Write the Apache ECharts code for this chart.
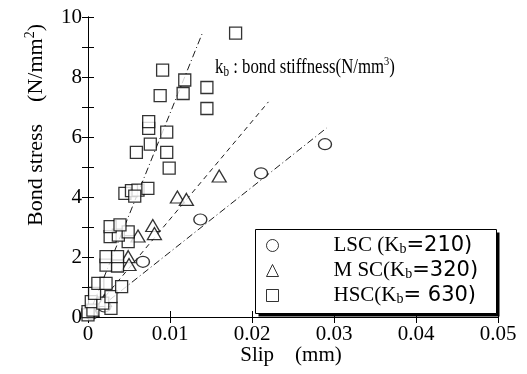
<!DOCTYPE html>
<html>
<head>
<meta charset="utf-8">
<script src="https://cdn.jsdelivr.net/npm/echarts@6/dist/echarts.min.js"></script>
<style>
  html, body { margin: 0; padding: 0; background: #fff; }
  #chart { width: 527px; height: 374px; }
</style>
</head>
<body>
<div id="chart"></div>
<script>
/* 데이터: slip (mm), bond stress (N/mm²) */
const lscPoints = [
  [0.0004, 0.10], [0.0020, 0.35], [0.0067, 1.84], [0.0137, 3.25],
  [0.0211, 4.79], [0.0289, 5.76]
];
const mscPoints = [
  [0.0005, 0.20], [0.0020, 0.55], [0.0049, 2.01], [0.0050, 1.75],
  [0.0061, 2.70], [0.0079, 3.05], [0.0081, 2.78], [0.0109, 4.00],
  [0.0120, 3.92], [0.0160, 4.70]
];
const hscPoints = [
  [0.0000, 0.07], [0.0000, 0.18], [0.0006, 0.23], [0.0028, 0.29],
  [0.0004, 0.51], [0.0018, 0.46], [0.0028, 0.68], [0.0008, 0.79],
  [0.0041, 1.01], [0.0012, 1.12], [0.0022, 1.12], [0.0022, 1.73],
  [0.0036, 1.70], [0.0022, 2.01], [0.0036, 2.01], [0.0049, 2.51],
  [0.0027, 2.68], [0.0037, 2.73], [0.0049, 2.84], [0.0027, 3.01],
  [0.0039, 3.07], [0.0045, 4.12], [0.0053, 4.21], [0.0061, 4.23],
  [0.0057, 4.03], [0.0073, 4.29], [0.0099, 4.96], [0.0059, 5.49],
  [0.0096, 5.49], [0.0076, 5.76], [0.0096, 6.16], [0.0074, 6.29],
  [0.0074, 6.51], [0.0145, 6.95], [0.0088, 7.38], [0.0116, 7.45],
  [0.0145, 7.65], [0.0118, 7.90], [0.0091, 8.23], [0.0180, 9.46]
];

/* bond stiffness 직선: 원점에서 끝점까지 */
const lineEndSlip = [0.0291, 0.0220, 0.0140];
const lineEndStress = [6.30, 7.17, 9.50];
const seriesNames = ['LSC', 'MSC', 'HSC'];
const stiffnessLabels = ['210', '320', '630'];

const SERIF = "'Liberation Serif', 'DejaVu Serif', serif";
const WIDE_SANS = "'DejaVu Sans', sans-serif";

const legendLabels = {
  LSC: `{t|LSC (K}{s|b}{n|=${stiffnessLabels[0]})}`,
  MSC: `{t|M SC(K}{s|b}{n|=${stiffnessLabels[1]})}`,
  HSC: `{t|HSC(K}{s|b}{n|= ${stiffnessLabels[2]})}`
};

const markerStyle = { color: '#fff', borderColor: '#000', borderWidth: 1.3 };

function axisCommon() {
  return {
    axisLine: { show: true, lineStyle: { color: '#000', width: 1 } },
    axisTick: { show: true, inside: true, length: 6, lineStyle: { color: '#000' } },
    splitLine: { show: false }
  };
}

const chart = echarts.init(document.getElementById('chart'), null, { renderer: 'canvas' });

const option = {
  animation: false,
  backgroundColor: '#fff',
  grid: { left: 88, right: 29, top: 17, bottom: 57 },
  xAxis: [
    Object.assign(axisCommon(), {
      type: 'value', min: 0, max: 0.05, interval: 0.01,
      axisLabel: {
        color: '#000', fontFamily: SERIF, fontSize: 21, margin: 7,
        formatter: v => (v === 0 ? '0' : v.toFixed(2))
      }
    }),
    Object.assign(axisCommon(), {
      type: 'value', position: 'top', min: 0, max: 0.05, interval: 0.01,
      axisLabel: { show: false }
    })
  ],
  yAxis: [
    Object.assign(axisCommon(), {
      type: 'value', min: 0, max: 10, interval: 1,
      axisLabel: {
        color: '#000', fontFamily: SERIF, fontSize: 21, margin: 6,
        formatter: v => (v % 2 === 0 ? String(v) : '')
      }
    }),
    Object.assign(axisCommon(), {
      type: 'value', position: 'right', min: 0, max: 10, interval: 1,
      axisLabel: { show: false }
    })
  ],
  legend: {
    data: seriesNames,
    orient: 'vertical',
    left: 266, top: 235,
    z: 20,
    padding: 0,
    itemGap: 4,
    itemWidth: 12, itemHeight: 12,
    itemStyle: { borderWidth: 1 },
    formatter: name => legendLabels[name],
    textStyle: {
      padding: [0, 0, 0, 50],
      rich: {
        t: { fontFamily: SERIF, fontSize: 21, color: '#000', lineHeight: 22 },
        s: { fontFamily: SERIF, fontSize: 14, color: '#000', padding: [7, 0, 0, 0], lineHeight: 22 },
        n: { fontFamily: WIDE_SANS, fontSize: 21, color: '#000', lineHeight: 22 }
      }
    }
  },
  graphic: [
    /* 범례 상자: 그림자 + 흰 상자 */
    {
      type: 'rect', silent: true, z: 10,
      shape: { x: 258.5, y: 232.5, width: 241, height: 84 },
      style: { fill: '#000' }
    },
    {
      type: 'rect', silent: true, z: 11,
      shape: { x: 255.5, y: 229.5, width: 241, height: 84 },
      style: { fill: '#fff', stroke: '#000', lineWidth: 1 }
    },
    /* kb 주석 */
    {
      type: 'text', x: 215, y: 67, scaleX: 0.8, silent: true,
      style: {
        text: '{t|k}{s|b}{t| : bond stiffness(N/mm}{p|3}{t|)}',
        verticalAlign: 'middle',
        rich: {
          t: { fontFamily: SERIF, fontSize: 21, fill: '#000', lineHeight: 24 },
          s: { fontFamily: SERIF, fontSize: 14, fill: '#000', padding: [10, 0, 0, 0], lineHeight: 24 },
          p: { fontFamily: SERIF, fontSize: 13, fill: '#000', padding: [0, 0, 11, 0], lineHeight: 24 }
        }
      }
    },
    /* 축 제목 */
    {
      type: 'text', x: 36, y: 125, rotation: Math.PI / 2, silent: true,
      style: {
        text: '{a|Bond stress    (N/mm}{p|2}{a|)}',
        align: 'center', verticalAlign: 'middle',
        rich: {
          a: { fontFamily: SERIF, fontSize: 22, fill: '#000', lineHeight: 26 },
          p: { fontFamily: SERIF, fontSize: 14, fill: '#000', padding: [0, 0, 12, 0], lineHeight: 26 }
        }
      }
    },
    {
      type: 'text', x: 291, y: 355, silent: true,
      style: {
        text: 'Slip    (mm)', fontFamily: SERIF, fontSize: 21, fill: '#000',
        align: 'center', verticalAlign: 'middle'
      }
    }
  ],
  series: [
    {
      type: 'line', data: [[0, 0], [lineEndSlip[0], lineEndStress[0]]], symbol: 'none', silent: true,
      lineStyle: { color: '#000', width: 0.9, type: [7, 3, 1, 3] }, z: 1
    },
    {
      type: 'line', data: [[0, 0], [lineEndSlip[1], lineEndStress[1]]], symbol: 'none', silent: true,
      lineStyle: { color: '#000', width: 0.9, type: [5, 4] }, z: 1
    },
    {
      type: 'line', data: [[0, 0], [lineEndSlip[2], lineEndStress[2]]], symbol: 'none', silent: true,
      lineStyle: { color: '#000', width: 0.9, type: [7, 3, 1, 3] }, z: 1
    },
    {
      name: 'LSC', type: 'scatter', data: lscPoints,
      symbol: 'circle', symbolSize: [13, 11], itemStyle: markerStyle, z: 3
    },
    {
      name: 'MSC', type: 'scatter', data: mscPoints,
      symbol: 'triangle', symbolSize: [14, 12], itemStyle: markerStyle, z: 3
    },
    {
      name: 'HSC', type: 'scatter', data: hscPoints,
      symbol: 'rect', symbolSize: [12, 12], itemStyle: markerStyle, z: 3
    }
  ]
};

chart.setOption(option);
</script>
</body>
</html>
